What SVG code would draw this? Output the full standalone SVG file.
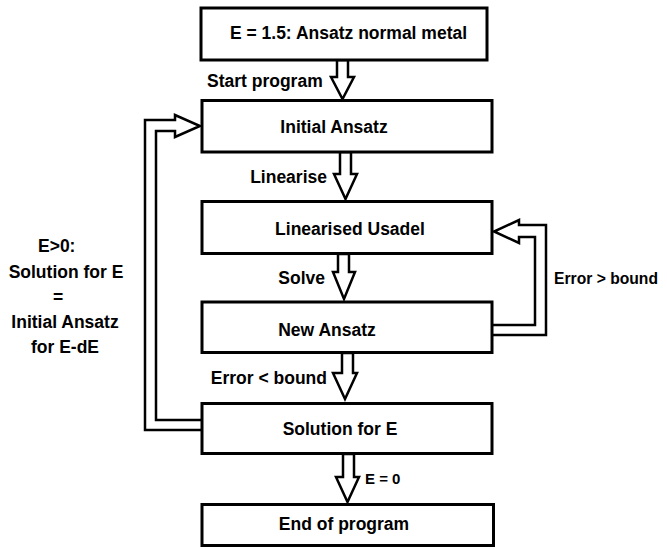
<svg xmlns="http://www.w3.org/2000/svg" width="667" height="549" viewBox="0 0 667 549">
<style>
.box{fill:#fff;stroke:#000;stroke-width:3}
.arr{fill:#fff;stroke:#000;stroke-width:2.5;stroke-linejoin:miter}
text{font-family:"Liberation Sans",Arial,sans-serif;font-weight:bold;font-size:17.5px;fill:#000}
.m{text-anchor:middle}
.e{text-anchor:end}
</style>
<rect width="667" height="549" fill="#fff"/>
<g id="connectors">
<path class="arr" d="M337,60 V77 H331 L342.5,99 L354,77 H348 V60 Z"/>
<path class="arr" d="M340,152 V174 H334 L345.5,199 L357,174 H351 V152 Z"/>
<path class="arr" d="M338,254 V272 H333 L344,299 L355,272 H349 V254 Z"/>
<path class="arr" d="M342,353 V373 H333 L345,399 L357,373 H353 V353 Z"/>
<path class="arr" d="M343,454 V477 H336 L347.5,502 L359,477 H354 V454 Z"/>
<path class="arr" fill="none" d="M493,325 H535 V237 H519 V243 L494,231.5 L519,220 V225 H546 V335 H493"/>
<path class="arr" fill="none" d="M202,420 H156 V131 H175 V137 L200,126 L175,115 V120 H145 V430 H202"/>
<text x="207" y="87">Start program</text>
<text class="e" x="327" y="183">Linearise</text>
<text class="e" x="325" y="284">Solve</text>
<text class="e" x="327" y="384">Error &lt; bound</text>
<text x="365" y="484" style="font-size:15px">E = 0</text>
<text x="554" y="284" style="font-size:17px" textLength="104" lengthAdjust="spacingAndGlyphs">Error &gt; bound</text>
<text x="38" y="252">E&gt;0:</text>
<text class="m" x="66" y="278">Solution for E</text>
<text class="m" x="58" y="303">=</text>
<text class="m" x="65" y="328">Initial Ansatz</text>
<text class="m" x="65" y="353">for E-dE</text>
</g>
<g id="n1"><rect class="box" x="201" y="8" width="286" height="52"/><text class="m" x="348.5" y="39">E = 1.5: Ansatz normal metal</text></g>
<g id="n2"><rect class="box" x="202" y="100.5" width="290" height="51.5"/><text class="m" x="334" y="133">Initial Ansatz</text></g>
<g id="n3"><rect class="box" x="202" y="201.5" width="290" height="52"/><text class="m" x="350" y="235">Linearised Usadel</text></g>
<g id="n4"><rect class="box" x="202" y="302" width="290" height="50.5"/><text class="m" x="327" y="336">New Ansatz</text></g>
<g id="n5"><rect class="box" x="202" y="403.5" width="290" height="50"/><text class="m" x="340" y="435">Solution for E</text></g>
<g id="n6"><rect class="box" x="202" y="504.5" width="291.5" height="41"/><text class="m" x="344" y="530">End of program</text></g>
</svg>
